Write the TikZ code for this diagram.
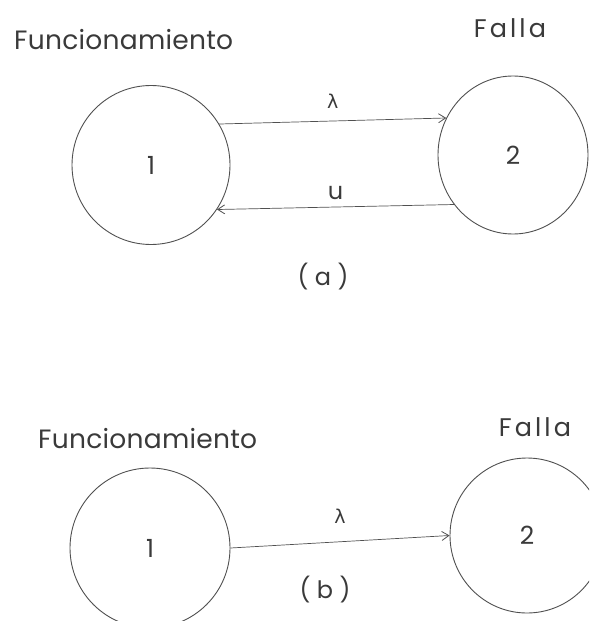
\documentclass[tikz,border=0pt]{standalone}
\usepackage{fontspec}
\setmainfont{Poppins}
\newfontfamily\greekfont{DejaVu Sans}
\usetikzlibrary{shapes.geometric,arrows.meta}
\definecolor{ink}{HTML}{3A3A3A}
\definecolor{linegray}{HTML}{505050}
\tikzset{
  state/.style={draw=linegray, line width=0.9pt, ellipse, inner sep=0pt, font=\fontsize{25}{27}\selectfont, text=ink},
  lbl/.style={text=ink, inner sep=0pt, font=\fontsize{24}{26}\selectfont},
  title/.style={text=ink, inner sep=0pt, font=\fontsize{26.5}{29}\selectfont\addfontfeature{LetterSpace=1}},
  ftitle/.style={text=ink, inner sep=0pt, font=\fontsize{25.5}{28}\selectfont\addfontfeature{LetterSpace=12}},
  greek/.style={text=ink, inner sep=0pt, font=\greekfont\fontsize{19}{21}\selectfont},
  conn/.style={draw=linegray, line width=0.7pt, -{Straight Barb[length=7pt,width=9pt,line width=0.8pt]}},
}
\begin{document}
\begin{tikzpicture}[x=1pt,y=-1pt]
\useasboundingbox (0,0) rectangle (589,621);
\clip (0,0) rectangle (589,621);
\fill[white] (0,0) rectangle (589,621);
% (a)
\node[title, anchor=west] (fa) at (14,40) {Funcionamiento};
\node[ftitle] (fla) at (510,28) {Falla};
\node[state, minimum width=158pt, minimum height=159pt] (c1a) at (151,165) {1};
\node[state, minimum width=150pt, minimum height=158pt] (c2a) at (513,155) {2};
\draw[conn] (c1a.31) -- node[greek, above=12pt] (la) {λ} (c2a.151);
\draw[conn] (c2a.220) -- node[lbl, above=7pt] (ua) {u} (c1a.326);
\node[lbl] (capa) at (323,277) {( a )};
% (b)
\node[title, anchor=west] (fb) at (38,439) {Funcionamiento};
\node[ftitle] (flb) at (535,427) {Falla};
\node[state, minimum width=160pt, minimum height=160pt] (c1b) at (150,548) {1};
\node[state, minimum width=154pt, minimum height=155pt] (c2b) at (527,535.5) {2};
\draw[conn] (c1b.east) -- node[greek, above=18pt] (lb) {λ} (c2b.west);
\node[lbl] (capb) at (325,590) {( b )};
\end{tikzpicture}
\end{document}
